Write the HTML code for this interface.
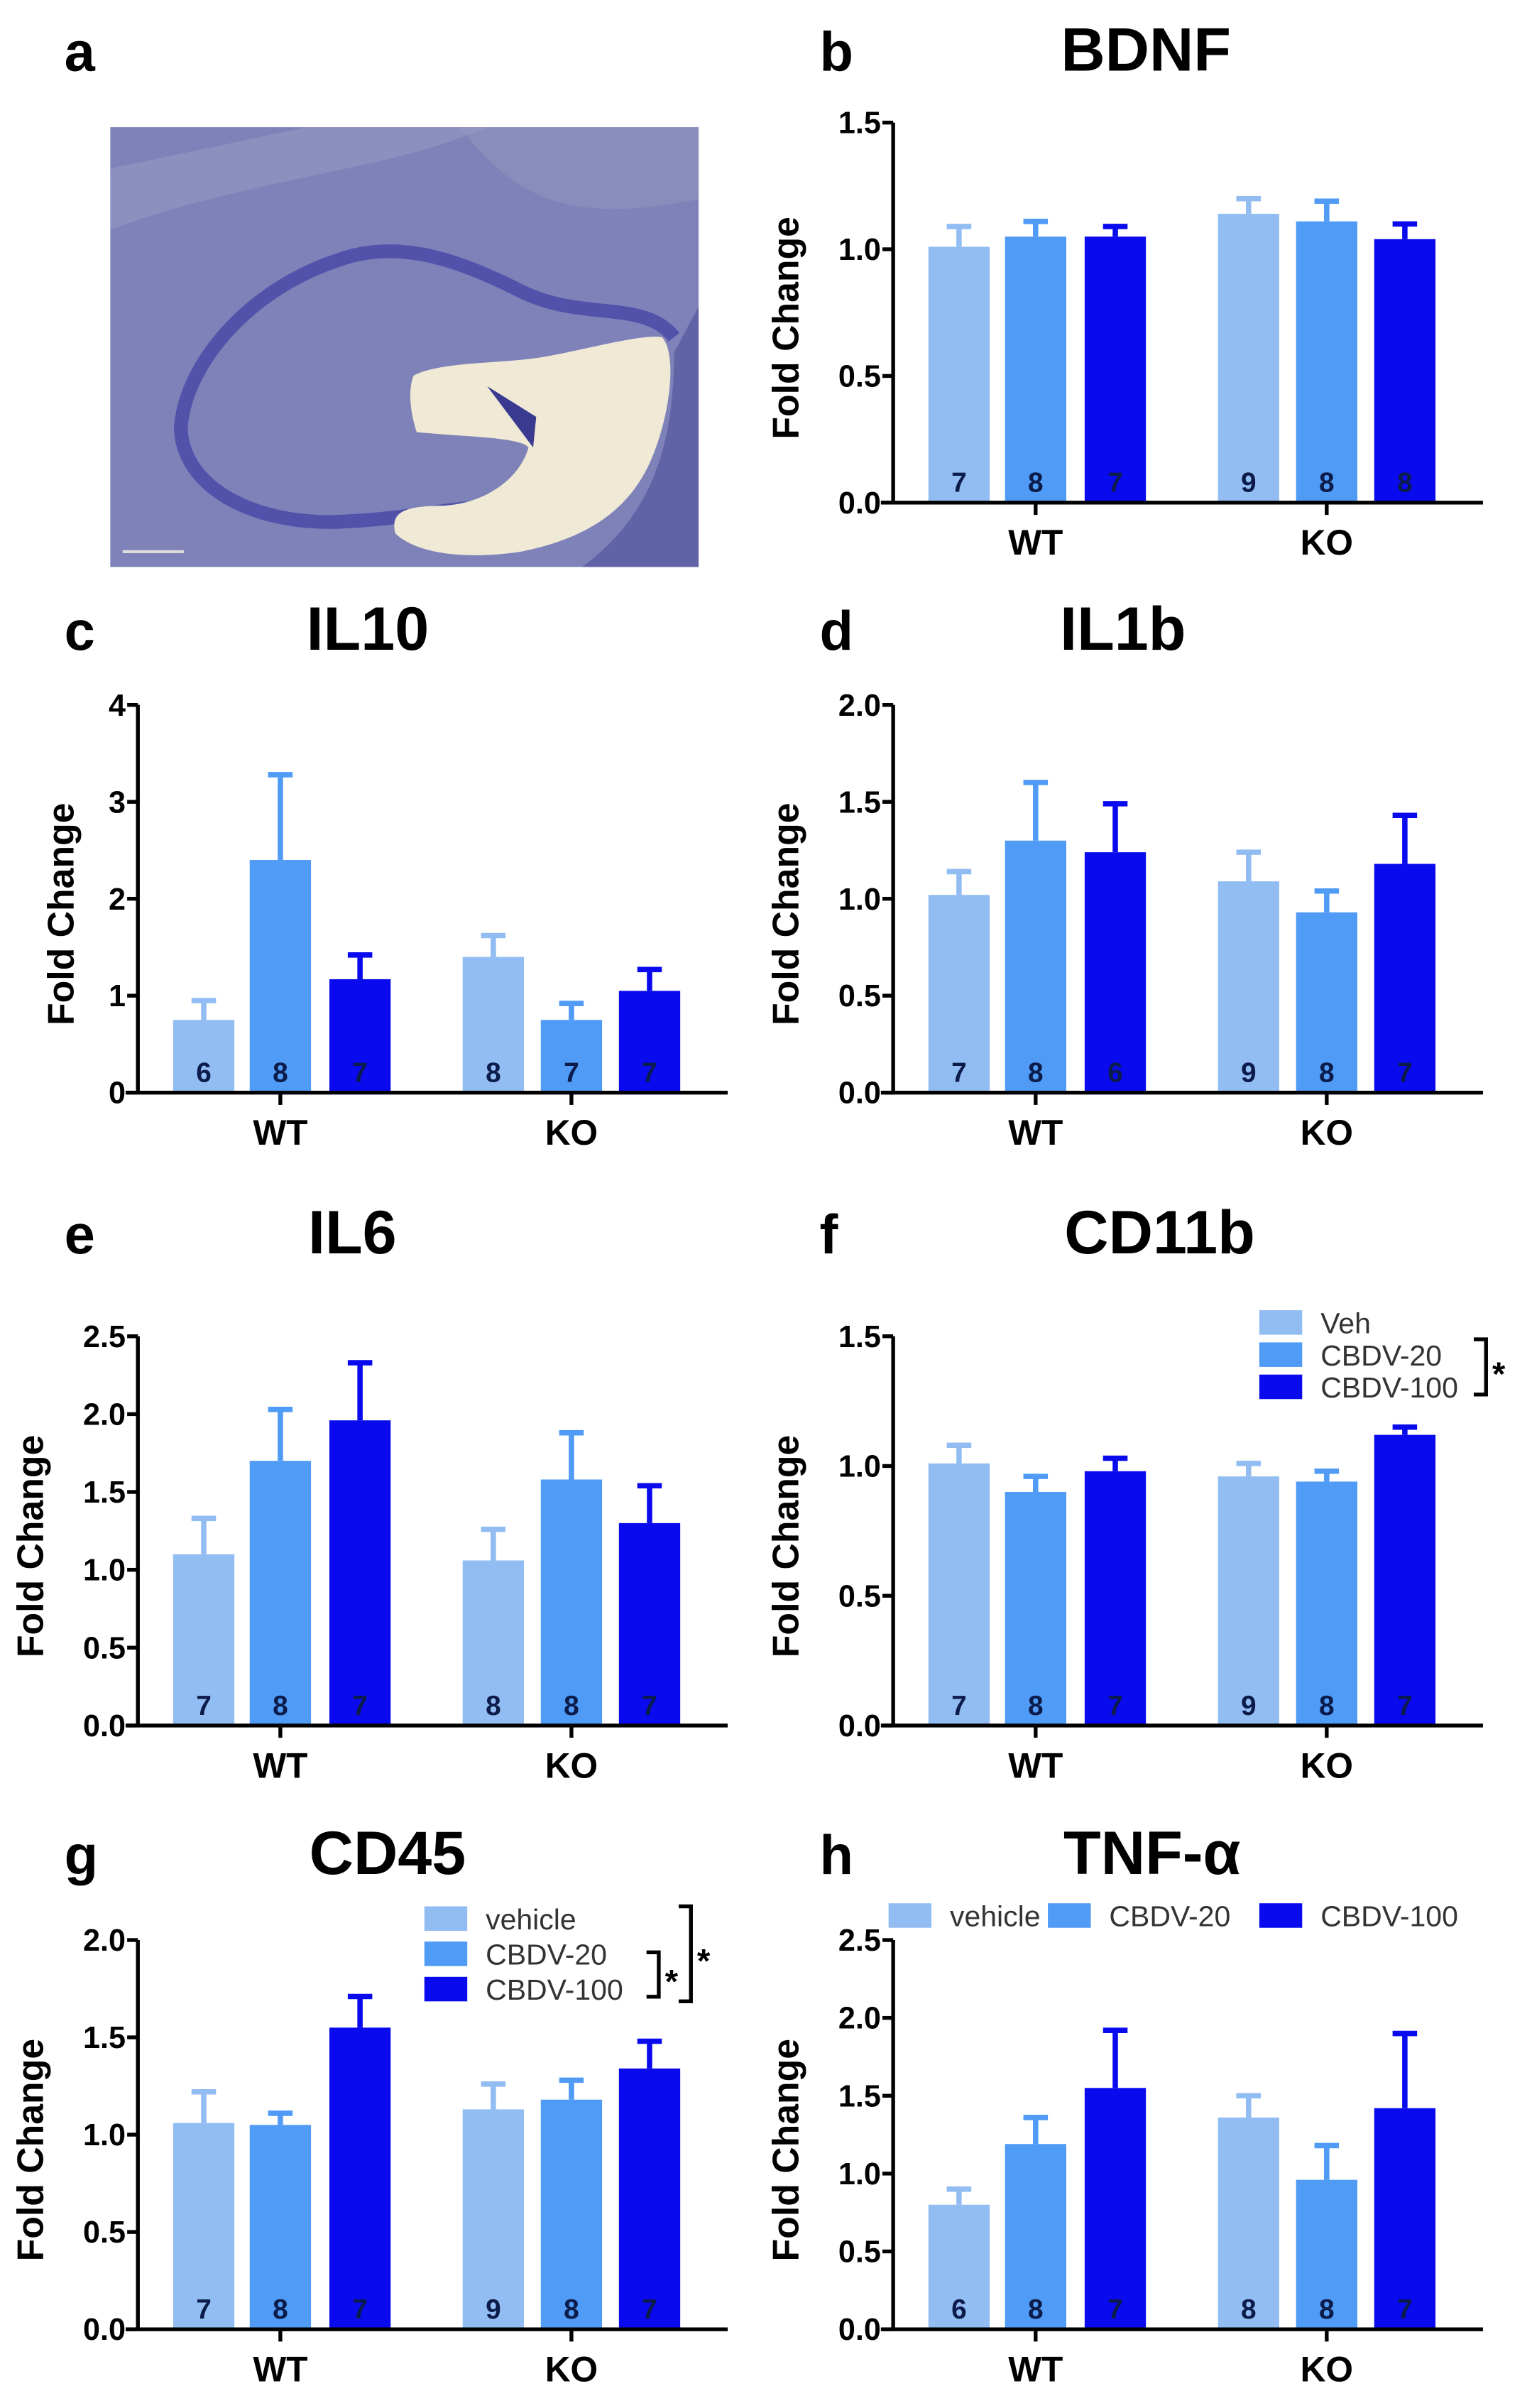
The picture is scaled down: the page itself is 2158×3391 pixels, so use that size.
<!DOCTYPE html>
<html><head><meta charset="utf-8"><style>
html,body{margin:0;padding:0;background:#fff;}
svg{display:block;font-family:"Liberation Sans",Arial,sans-serif;}
</style></head><body>
<svg id="fig" width="2158" height="3391" viewBox="0 0 1000 1571.37" preserveAspectRatio="none" xmlns="http://www.w3.org/2000/svg">
<g>
<text x="42" y="46" font-size="36" font-weight="bold">a</text>
<rect x="72" y="83" width="384" height="287" fill="#7e82b8"/>
<path d="M72,83 L300,83 C330,120 360,150 456,130 L456,83 Z" fill="#9094bd" opacity="0.6"/>
<path d="M72,150 C150,120 250,110 300,90 L320,83 L200,83 L72,110 Z" fill="#9a9ec3" opacity="0.5"/>
<path d="M440,220 C420,195 380,210 340,190 C300,170 260,155 220,170 C160,190 120,240 118,280 C120,320 170,345 230,340 C270,338 300,330 330,330" fill="none" stroke="#4a4aa8" stroke-width="9" opacity="0.85"/>
<path d="M456,200 L456,370 L380,370 C420,340 440,300 440,230 Z" fill="#55569f" opacity="0.7"/>
<path d="M270,245 C290,235 330,238 360,232 C390,226 420,218 432,220 C442,230 438,270 425,300 C410,335 380,352 340,360 C300,366 270,360 258,348 C255,335 262,330 290,330 C320,328 340,310 345,292 C340,285 300,285 272,282 C268,270 266,255 270,245 Z" fill="#efe9d6"/>
<path d="M318,252 L348,292 L350,272 Z" fill="#3a3a90"/>
<line x1="80" y1="360" x2="120" y2="360" stroke="#ddd" stroke-width="2"/>
</g>
<g id="charts"></g>
</svg>
<script>
// Shared categories / styling data
const groups = ["WT", "KO"];
const treatments = ["vehicle", "CBDV-20", "CBDV-100"];
const colors = ["#92bdf3", "#4f9bf6", "#0a0aee"];

// Panel b BDNF
const bdnfMeans = [1.01, 1.05, 1.05, 1.14, 1.11, 1.04];
const bdnfErr = [0.08, 0.06, 0.04, 0.06, 0.08, 0.06];
const bdnfN = ["7","8","7","9","8","8"];
const bdnfTicks = ["0.0","0.5","1.0","1.5"];
// Panel c IL10
const il10Means = [0.75, 2.4, 1.17, 1.4, 0.75, 1.05];
const il10Err = [0.2, 0.88, 0.25, 0.22, 0.17, 0.22];
const il10N = ["6","8","7","8","7","7"];
const il10Ticks = ["0","1","2","3","4"];
// Panel d IL1b
const il1bMeans = [1.02, 1.3, 1.24, 1.09, 0.93, 1.18];
const il1bErr = [0.12, 0.3, 0.25, 0.15, 0.11, 0.25];
const il1bN = ["7","8","6","9","8","7"];
const il1bTicks = ["0.0","0.5","1.0","1.5","2.0"];
// Panel e IL6
const il6Means = [1.1, 1.7, 1.96, 1.06, 1.58, 1.3];
const il6Err = [0.23, 0.33, 0.37, 0.2, 0.3, 0.24];
const il6N = ["7","8","7","8","8","7"];
const il6Ticks = ["0.0","0.5","1.0","1.5","2.0","2.5"];
// Panel f CD11b
const cd11bMeans = [1.01, 0.9, 0.98, 0.96, 0.94, 1.12];
const cd11bErr = [0.07, 0.06, 0.05, 0.05, 0.04, 0.03];
const cd11bN = ["7","8","7","9","8","7"];
const cd11bTicks = ["0.0","0.5","1.0","1.5"];
// Panel g CD45
const cd45Means = [1.06, 1.05, 1.55, 1.13, 1.18, 1.34];
const cd45Err = [0.16, 0.06, 0.16, 0.13, 0.1, 0.14];
const cd45N = ["7","8","7","9","8","7"];
const cd45Ticks = ["0.0","0.5","1.0","1.5","2.0"];
// Panel h TNF-a
const tnfMeans = [0.8, 1.19, 1.55, 1.36, 0.96, 1.42];
const tnfErr = [0.1, 0.17, 0.37, 0.14, 0.22, 0.48];
const tnfN = ["6","8","7","8","8","7"];
const tnfTicks = ["0.0","0.5","1.0","1.5","2.0","2.5"];

const NS = "http://www.w3.org/2000/svg";
const root = document.getElementById("charts");
function mk(tag, attrs, parent) {
  const e = document.createElementNS(NS, tag);
  for (const k in attrs) e.setAttribute(k, attrs[k]);
  parent.appendChild(e);
  return e;
}

function panel(p) {
  const g = mk("g", {}, root);
  
  
  const lab = mk("text", {x: p.ax - 48, y: p.titleY, "font-size": 36, "font-weight": "bold"}, g);
  lab.textContent = p.letter;
  
  
  const tt = mk("text", {x: p.titleX, y: p.titleY, "font-size": 40, "font-weight": "bold", "text-anchor": "middle"}, g);
  tt.textContent = p.title;
  
  
  const y0 = p.y0, yTop = p.yTop, max = p.max;
  const yS = v => y0 - (v / max) * (y0 - yTop);
  const off = p.ax - 90;
  const centers = [133, 183, 235, 322, 373, 424].map(c => c + off);
  const bw = 40;
  p.means.forEach((m, i) => {
    const c = colors[i % 3];
    const x = centers[i];
    const r = mk("rect", {x: x - bw / 2, y: yS(m), width: bw, height: y0 - yS(m), fill: c}, g);
    
    
    const eT = yS(m + p.err[i]);
    const el = mk("path", {d: `M${x},${yS(m)} L${x},${eT} M${x - 8},${eT} L${x + 8},${eT}`, stroke: c, "stroke-width": 3.5, fill: "none"}, g);
    
    
    const nt = mk("text", {x: x, y: y0 - 7, "font-size": 18, "font-weight": "bold", "text-anchor": "middle", fill: "#0b1b4a"}, g);
    nt.textContent = p.n[i];
    
    
  });
  const ya = mk("line", {x1: p.ax, y1: yTop, x2: p.ax, y2: y0, stroke: "#000", "stroke-width": 2.5}, g);
  
  
  const xa = mk("line", {x1: p.ax - 8, y1: y0, x2: p.ax + 385, y2: y0, stroke: "#000", "stroke-width": 2.5}, g);
  
  
  p.ticks.forEach(t => {
    const yy = yS(parseFloat(t));
    mk("line", {x1: p.ax - 7, y1: yy, x2: p.ax, y2: yy, stroke: "#000", "stroke-width": 2.5}, g);
    const tl = mk("text", {x: p.ax - 8, y: yy + 7, "font-size": 20, "font-weight": "bold", "text-anchor": "end"}, g);
    tl.textContent = t;
    
    
  });
  groups.forEach((gr, k) => {
    const cx = centers[k * 3 + 1];
    mk("line", {x1: cx, y1: y0, x2: cx, y2: y0 + 8, stroke: "#000", "stroke-width": 2.5}, g);
    const gl = mk("text", {x: cx, y: y0 + 34, "font-size": 23, "font-weight": "bold", "text-anchor": "middle"}, g);
    gl.textContent = gr;
    
    
  });
  const ytx = p.ax - (p.ytOff || 62), yty = (y0 + yTop) / 2 + 10;
  const yt = mk("text", {x: ytx, y: yty, "font-size": 24, "font-weight": "bold", "text-anchor": "middle", transform: `rotate(-90 ${ytx} ${yty})`}, g);
  yt.textContent = "Fold Change";
  
  
  return g;
}

function legendV(g, x, y, labels, gap) {
  labels.forEach((l, i) => {
    const r = mk("rect", {x: x, y: y + i * gap - 8, width: 28, height: 16, fill: colors[i]}, g);
    
    
    const t = mk("text", {x: x + 40, y: y + i * gap + 7, "font-size": 19, fill: "#333"}, g);
    t.textContent = l;
    
    
  });
}
function bracket(g, x, y1, y2, star) {
  const b = mk("path", {d: `M${x - 8},${y1} L${x},${y1} L${x},${y2} L${x - 8},${y2}`, stroke: "#000", "stroke-width": 2.5, fill: "none"}, g);
  
  
  const s = mk("text", {x: x + 4, y: (y1 + y2) / 2 + 12, "font-size": 22, "font-weight": "bold"}, g);
  s.textContent = star;
  
  
}

panel({id: "b", letter: "b", title: "BDNF", titleX: 748, titleY: 46, ax: 583, y0: 328, yTop: 80, max: 1.5, means: bdnfMeans, err: bdnfErr, n: bdnfN, ticks: bdnfTicks});
panel({id: "c", letter: "c", title: "IL10", titleX: 240, titleY: 424, ax: 90, y0: 713, yTop: 460, max: 4, means: il10Means, err: il10Err, n: il10N, ticks: il10Ticks, ytOff: 42});
panel({id: "d", letter: "d", title: "IL1b", titleX: 733, titleY: 424, ax: 583, y0: 713, yTop: 460, max: 2, means: il1bMeans, err: il1bErr, n: il1bN, ticks: il1bTicks});
panel({id: "e", letter: "e", title: "IL6", titleX: 230, titleY: 818, ax: 90, y0: 1126, yTop: 872, max: 2.5, means: il6Means, err: il6Err, n: il6N, ticks: il6Ticks});
const gf = panel({id: "f", letter: "f", title: "CD11b", titleX: 757, titleY: 818, ax: 583, y0: 1126, yTop: 872, max: 1.5, means: cd11bMeans, err: cd11bErr, n: cd11bN, ticks: cd11bTicks});
legendV(gf, 822, 863, ["Veh", "CBDV-20", "CBDV-100"], 21);
bracket(gf, 970, 874, 910, "*");
const gg = panel({id: "g", letter: "g", title: "CD45", titleX: 253, titleY: 1223, ax: 90, y0: 1520, yTop: 1266, max: 2, means: cd45Means, err: cd45Err, n: cd45N, ticks: cd45Ticks});
legendV(gg, 277, 1252, ["vehicle", "CBDV-20", "CBDV-100"], 23);
bracket(gg, 430, 1274, 1303, "*");
bracket(gg, 451, 1244, 1306, "*");
const gh = panel({id: "h", letter: "h", title: "TNF-\u03b1", titleX: 752, titleY: 1223, ax: 583, y0: 1520, yTop: 1266, max: 2.5, means: tnfMeans, err: tnfErr, n: tnfN, ticks: tnfTicks});
[[580, "vehicle"], [684, "CBDV-20"], [822, "CBDV-100"]].forEach((e, i) => {
  const r = mk("rect", {x: e[0], y: 1242, width: 28, height: 16, fill: colors[i]}, gh);
  
  
  const t = mk("text", {x: e[0] + 40, y: 1257, "font-size": 19, fill: "#333"}, gh);
  t.textContent = e[1];
  
  
});
</script>
</body></html>
